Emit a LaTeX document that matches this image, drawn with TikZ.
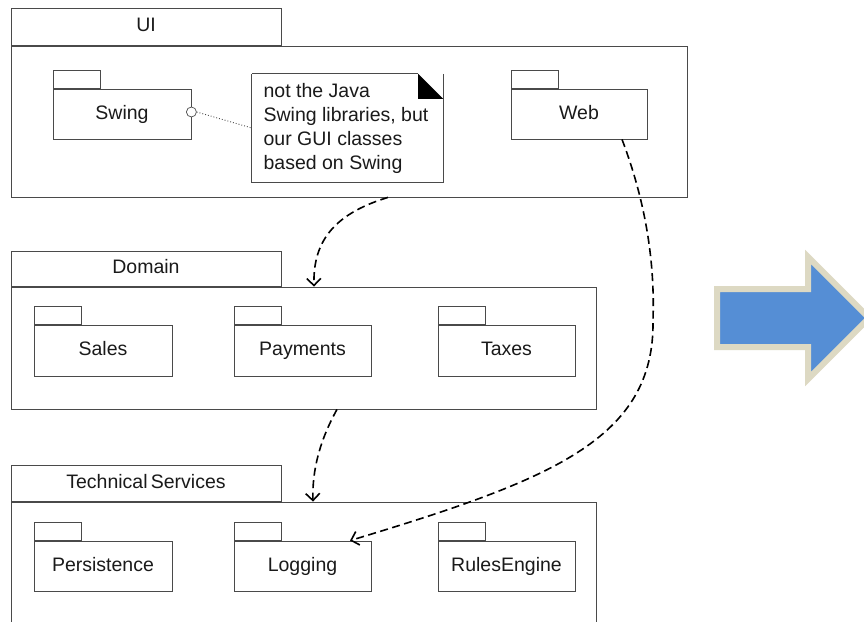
\documentclass[tikz,border=0pt]{standalone}
\usepackage{fontspec}
\setmainfont{Liberation Sans}
\usetikzlibrary{arrows.meta,calc}
\definecolor{lineg}{HTML}{4A4A4A}
\definecolor{arrowblue}{HTML}{558ED5}
\definecolor{arrowedge}{HTML}{DDD9C3}
\definecolor{txt}{HTML}{1A1A1A}
\begin{document}
\begin{tikzpicture}[x=1pt,y=-1pt,
  pkg/.style={draw=lineg, line width=0.8pt, fill=white, rectangle, inner sep=0pt,
    font=\fontsize{19.5}{23}\selectfont, text=txt, text height=14pt, text depth=4pt},
  tab/.style={pkg, anchor=south west},
  dep/.style={draw=black, line width=1.6pt, dash pattern=on 8pt off 4.5pt,
    -{Straight Barb[length=7pt,width=14pt]}},
  notetext/.style={font=\fontsize{19.5}{24}\selectfont, text=txt, align=left,
    minimum width=191pt, minimum height=108pt, inner sep=0pt}]
\useasboundingbox (0,0) rectangle (864,621);
\fill[white] (0,0) rectangle (864,621);

% UI package
\node[pkg, minimum width=676pt, minimum height=151pt] (uibody) at (349,121.5) {};
\node[tab, minimum width=270pt, minimum height=37pt] (uitab) at (uibody.north west) {UI};
\node[pkg, minimum width=138pt, minimum height=50pt] (swing) at (122,114) {Swing};
\node[tab, minimum width=47pt, minimum height=18pt] (swingtab) at (swing.north west) {};
\node[pkg, minimum width=136pt, minimum height=50pt] (web) at (579,114) {Web};
\node[tab, minimum width=47pt, minimum height=18pt] (webtab) at (web.north west) {};

% note
\node[notetext] (note) at (346,128) {not the Java\\Swing libraries, but\\our GUI classes\\based on Swing};
\path (347.5,128) node[minimum width=191pt, minimum height=108pt, inner sep=0pt] (notebox) {};
\draw[lineg, line width=0.8pt] (notebox.north west) -- ([xshift=-25pt]notebox.north east);
\draw[lineg, line width=0.8pt] (notebox.north east) -- (notebox.south east) -- (notebox.south west) -- (notebox.north west);
\fill[black] ([xshift=-25pt]notebox.north east) -- ([xshift=-25pt,yshift=-25pt]notebox.north east) -- ([yshift=-25pt]notebox.north east) -- cycle;
\node[circle, draw=lineg, line width=0.7pt, fill=white, minimum size=10pt, inner sep=0pt] (swc) at ([yshift=2pt]swing.east) {};
\draw[lineg, line width=0.9pt, dotted] (swc.east) -- (notebox.west);

% Domain package
\node[pkg, minimum width=585pt, minimum height=122pt] (dombody) at (303.5,348) {};
\node[tab, minimum width=270pt, minimum height=35pt] (domtab) at (dombody.north west) {Domain};
\node[pkg, minimum width=138pt, minimum height=51pt] (sales) at (103,350.5) {Sales};
\node[tab, minimum width=47pt, minimum height=17pt] (salestab) at (sales.north west) {};
\node[pkg, minimum width=137pt, minimum height=51pt] (payments) at (302.5,350.5) {Payments};
\node[tab, minimum width=47pt, minimum height=17pt] (paytab) at (payments.north west) {};
\node[pkg, minimum width=137pt, minimum height=51pt] (taxes) at (506.5,350.5) {Taxes};
\node[tab, minimum width=47pt, minimum height=17pt] (taxtab) at (taxes.north west) {};

% Technical Services package
\node[pkg, minimum width=585pt, minimum height=124pt] (tsbody) at (303.5,564) {};
\node[tab, minimum width=270pt, minimum height=36pt] (tstab) at (tsbody.north west) {Technical\,Services};
\node[pkg, minimum width=138pt, minimum height=50pt] (persist) at (103,566) {Persistence};
\node[tab, minimum width=47pt, minimum height=18pt] (persisttab) at (persist.north west) {};
\node[pkg, minimum width=137pt, minimum height=50pt] (logging) at (302.5,566) {Logging};
\node[tab, minimum width=47pt, minimum height=18pt] (logtab) at (logging.north west) {};
\node[pkg, minimum width=137pt, minimum height=50pt] (rules) at (506.5,566) {RulesEngine};
\node[tab, minimum width=47pt, minimum height=18pt] (rulestab) at (rules.north west) {};

% dependencies
\coordinate (via) at (653,320);
\draw[dep] ([xshift=39pt]uibody.south) .. controls (330,215) and (313,245) .. ([xshift=10.5pt]dombody.north);
\draw[dep] ([xshift=33.5pt]dombody.south) .. controls (320,440) and (312,470) .. ([xshift=9.5pt]tsbody.north);
\draw[dep] ([xshift=43pt]web.south) .. controls (645,200) and (655,260) .. (via)
  .. controls (655,440) and (550,480) .. ([xshift=47.5pt]logging.north);

% big arrow
\draw[arrowedge, line width=6pt, fill=arrowblue, line join=miter]
  (717,289) -- (808,289) -- (808,257) -- (869,318) -- (808,379) -- (808,347) -- (717,347) -- cycle;
\end{tikzpicture}
\end{document}
